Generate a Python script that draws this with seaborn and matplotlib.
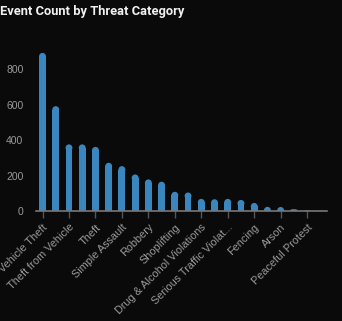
import matplotlib
matplotlib.use("Agg")
import matplotlib.pyplot as plt
from matplotlib.patches import Ellipse
import seaborn as sns
import pandas as pd

categories = [
    "Vehicle Theft", "Burglary", "Theft from Vehicle", "Vandalism", "Theft",
    "Aggravated Assault", "Simple Assault", "Trespassing", "Robbery", "Fraud",
    "Shoplifting", "Disorderly Conduct", "Drug & Alcohol Violations", "Weapons Violation",
    "Serious Traffic Violat...", "Harassment", "Fencing", "Kidnapping", "Arson",
    "Homicide", "Peaceful Protest", "Other",
]
counts = [893, 592, 376, 376, 362, 272, 253, 206, 178, 165,
          108, 104, 68, 66, 68, 62, 45, 23, 22, 10, 3, 1]

df = pd.DataFrame({"category": categories, "count": counts})

BG = "#0a0a0a"
BAR = "#3a87bf"
TICK_FONT = ["Liberation Sans", "DejaVu Sans"]

sns.set_theme(style="dark")
plt.rcParams["font.family"] = ["Roboto", "DejaVu Sans"]

fig = plt.figure(figsize=(3.42, 3.21), dpi=100, facecolor=BG)
ax = fig.add_axes([0.105, 0.343, 0.851, 0.517])
ax.set_facecolor(BG)

sns.barplot(data=df, x="category", y="count", color=BAR, width=0.52,
            saturation=1, ax=ax, order=categories)

ymax = 938
ax.set_xlim(-0.5, len(categories) - 0.5)
ax.set_ylim(0, ymax)

# rounded tops
fig.canvas.draw()
bbox = ax.get_window_extent()
px_per_x = bbox.width / (len(categories))
px_per_y = bbox.height / ymax
for p in list(ax.patches):
    w = p.get_width()
    h = p.get_height()
    r_px = w * px_per_x / 2
    r_y = r_px / px_per_y
    if h <= 0:
        continue
    if h > r_y:
        p.set_height(h - r_y)
        top = h - r_y
        ell_h = 2 * r_y
    else:
        p.set_height(h / 2)
        top = h / 2
        ell_h = h
    p.set_linewidth(0)
    e = Ellipse((p.get_x() + w / 2, top), w, ell_h, facecolor=BAR,
                edgecolor="none", zorder=p.get_zorder())
    ax.add_patch(e)

ax.set_xlabel("")
ax.set_ylabel("")
ax.set_yticks([0, 200, 400, 600, 800])
ax.set_yticklabels(["0", "200", "400", "600", "800"], family=TICK_FONT,
                   fontsize=7.5, color="#9a9a9a")
ax.tick_params(axis="y", length=0, pad=9)

xt = list(range(0, len(categories), 2))
ax.set_xticks(xt)
ax.set_xticklabels([categories[i] for i in xt], rotation=45, ha="right",
                   rotation_mode="anchor", fontsize=7.8, color="#9a9a9a",
                   family=TICK_FONT)
ax.tick_params(axis="x", length=5, width=1, color="#555555", pad=3, bottom=True)

for s in ["left", "top", "right"]:
    ax.spines[s].set_visible(False)
ax.spines["bottom"].set_color("#777777")
ax.spines["bottom"].set_linewidth(1.2)
ax.grid(False)

fig.text(0.0, 0.985, "Event Count by Threat Category", ha="left", va="top",
         fontsize=9.3, fontweight="bold", color="#f0f0f0")

fig.savefig("out.png", dpi=100, facecolor=BG)
